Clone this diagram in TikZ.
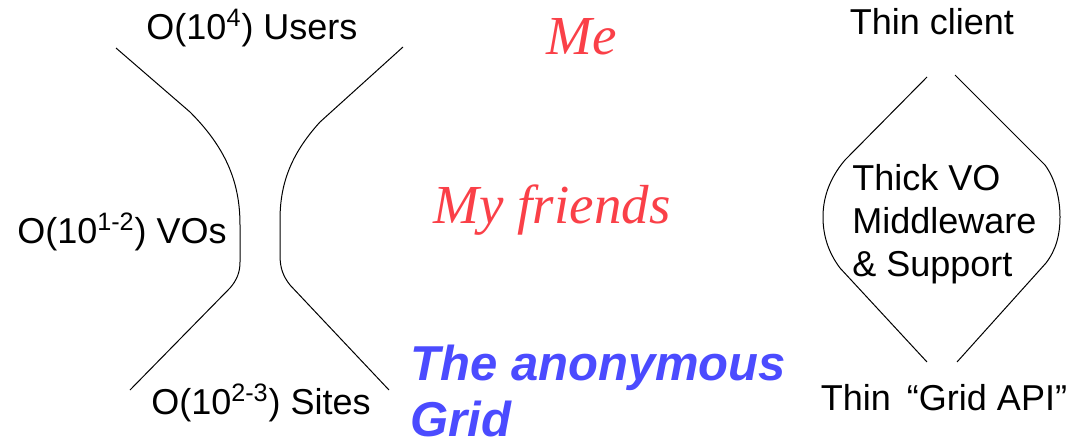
\documentclass[tikz,border=0pt]{standalone}
\usepackage{fontspec}
\setmainfont{Liberation Sans}
\newfontfamily\scriptserif{Liberation Serif}
\usepackage{tikz}
\definecolor{mered}{RGB}{250,64,72}
\definecolor{gridblue}{RGB}{75,75,255}
\tikzset{
  lbl/.style={font=\fontsize{18}{21.5}\selectfont, inner sep=0pt},
  who/.style={font=\fontsize{27.5}{30}\selectfont\scriptserif\itshape, text=mered, inner sep=0pt},
  anon/.style={font=\fontsize{24.5}{28}\selectfont\bfseries\itshape, text=gridblue, inner sep=0pt, align=left},
  waist/.style={line width=0.5pt}
}
\begin{document}
\begin{tikzpicture}[x=0.5pt, y=-0.5pt]
  \useasboundingbox (0,0) rectangle (1082,440);
  % Hourglass: users, VOs, sites
  \node[lbl] (users) at (252,28) {O(10\textsuperscript{4}) Users};
  \node[lbl] (vos)   at (122,232) {O(10\textsuperscript{1-2}) VOs};
  \node[lbl] (sites) at (261,403) {O(10\textsuperscript{2-3}) Sites};
  \draw[waist] (116,48) -- (190,112) .. controls (228,150) and (240,185) .. (240,225)
    -- (240,262) .. controls (240,272) and (237,280) .. (230,288) -- (130,390);
  \draw[waist] (403,47) -- (320,122) .. controls (290,155) and (280,185) .. (280,220)
    -- (280,255) .. controls (280,268) and (283,276) .. (290,285) -- (389,390);
  % Who is who
  \node[who] (me)      at (582,37) {Me};
  \node[who] (friends) at (552,210) {My friends};
  \node[anon, anchor=west] (grid) at (410,391) {The anonymous\\Grid};
  % Diamond: thin ends, thick middle
  \node[lbl] (client) at (932,22) {Thin client};
  \node[lbl, align=left, anchor=west] (thick) at (852,224) {Thick VO\\Middleware\\\& Support};
  \node[lbl] (api) at (944,398) {Thin \,“Grid API”};
  \draw[waist] (927,77) -- (845,160) .. controls (828,180) and (823,200) .. (823,217)
    .. controls (823,235) and (828,252) .. (840,268) -- (927,362);
  \draw[waist] (955,75) -- (1045,165) .. controls (1056,180) and (1060,200) .. (1060,217)
    .. controls (1060,235) and (1056,250) .. (1046,263) -- (957,362);
\end{tikzpicture}
\end{document}
